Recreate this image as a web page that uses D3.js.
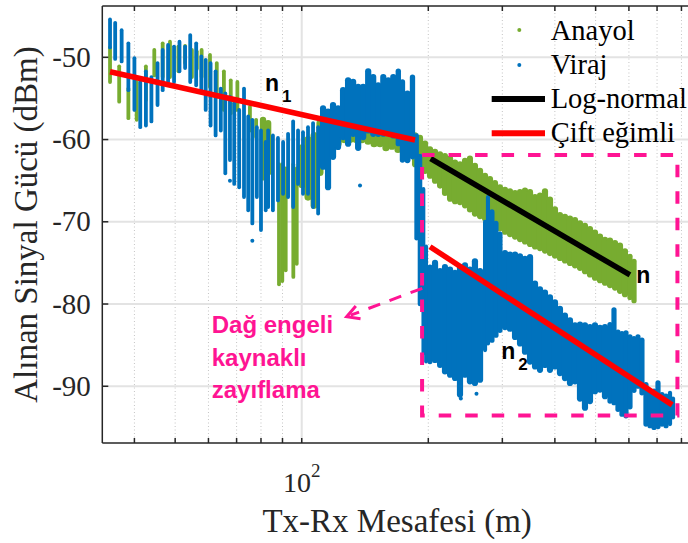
<!DOCTYPE html>
<html><head><meta charset="utf-8">
<script src="https://cdn.jsdelivr.net/npm/d3@7/dist/d3.min.js"></script>
<style>html,body{margin:0;padding:0;background:#fff;}svg{display:block;}</style>
</head><body>
<svg id="c" width="688" height="543"></svg>
<script>
// ---------------- DATA ----------------
const xDomain = [33.55, 847.6];          // Tx-Rx distance (m), log axis
const yDomain = [-96.9, -43.76];         // received power (dBm)
const yTicks = [-90, -80, -70, -60, -50];
const xMajorTicks = [100];
const xMinorTicks = [40, 50, 60, 70, 80, 90, 200, 300, 400, 500, 600, 700, 800];

// Anayol: individual measurement columns [distance, max dBm, min dBm]
const anayolColumns = [
  [35.0,-48.8,-53.0],[36.8,-51.1,-55.4],[38.7,-53.8,-57.4],[40.5,-53.0,-57.6],[42.6,-51.1,-55.2],
  [44.6,-49.1,-52.2],[46.7,-48.3,-52.4],[48.6,-48.1,-52.4],[50.9,-48.7,-51.7],[52.8,-48.6,-50.7],
  [54.8,-49.1,-52.4],[56.3,-49.3,-51.4],[57.8,-49.1,-52.4],[60.5,-49.7,-53.6],[62.8,-50.7,-54.8],
  [65.3,-51.7,-56.4],[67.8,-52.8,-56.8],[70.3,-53.0,-56.4],[75.3,-56.0,-58.9],[77.9,-57.6,-59.7],
  [80.6,-57.6,-63.7],[88.3,-63.0,-77.6],[89.9,-63.0,-77.2],[91.6,-63.5,-75.9],[95.5,-63.0,-76.7],
  [97.3,-63.5,-75.1]
];
// Anayol: dense range [distance, max dBm, min dBm]
const anayolBand = [
  [80.9,-57.6,-64.6],[83.2,-58.0,-64.0],
  [100.2,-61.0,-65.5],[103.5,-60.0,-67.0],[107.0,-59.5,-68.0],[110.5,-58.0,-64.0],[114.2,-58.0,-62.0],
  [118.0,-57.5,-61.0],[122.0,-57.0,-60.5],[126.1,-56.5,-60.0],[130.3,-56.5,-60.0],[134.6,-57.0,-60.0],
  [139.1,-56.5,-60.0],[143.8,-57.0,-60.2],[148.6,-57.5,-60.5],[153.5,-57.2,-60.5],[158.6,-57.5,-61.0],
  [163.9,-58.0,-60.8],[169.4,-58.0,-61.2],[175.0,-58.5,-61.0],[180.9,-59.0,-61.5],
  [186.0,-59.5,-63.0],[191.1,-59.8,-63.2],[196.5,-60.5,-63.8],[201.9,-61.2,-64.4],[207.5,-61.5,-65.0],
  [213.3,-61.8,-65.6],[219.1,-62.0,-66.5],[225.3,-62.3,-67.2],[231.5,-62.8,-67.5],[237.9,-63.0,-67.6],
  [244.5,-62.6,-68.0],[251.2,-62.3,-68.5],[258.2,-63.2,-69.0],[265.5,-63.8,-69.3],[272.9,-64.4,-69.6],
  [280.4,-64.8,-70.0],[288.2,-65.3,-70.4],[296.1,-65.8,-70.8],[304.4,-66.1,-71.2],[312.8,-66.3,-71.5],
  [321.6,-66.5,-71.8],[330.5,-66.4,-72.1],[339.6,-66.2,-72.4],[349.1,-66.4,-72.7],[358.8,-67.0,-73.0],
  [368.7,-66.8,-73.2],[378.9,-66.3,-73.5],[389.4,-67.3,-73.8],[400.2,-68.5,-74.1],[411.3,-69.2,-74.4],
  [422.7,-69.4,-74.7],[434.5,-69.6,-75.0],[446.6,-69.8,-75.3],[459.0,-70.2,-75.6],[471.7,-70.5,-76.0],
  [484.8,-70.9,-76.4],[498.3,-71.3,-76.8],[512.1,-71.8,-77.1],[526.3,-72.2,-77.4],[540.9,-72.3,-77.7],
  [556.0,-72.6,-78.0],[571.4,-72.9,-78.4],[587.2,-73.6,-78.8],[603.5,-74.2,-79.2],[617.0,-74.8,-79.6]
];
// Viraj: individual measurement columns [distance, max dBm, min dBm]
const virajColumns = [
  [35.0,-45.4,-48.8],[36.0,-45.8,-50.2],[37.3,-46.7,-50.5],[38.7,-48.3,-54.0],[40.0,-50.1,-56.4],
  [41.3,-53.0,-58.5],[42.6,-51.7,-58.3],[43.9,-52.4,-57.8],[45.4,-50.7,-55.8],[46.7,-49.1,-54.0],
  [48.1,-48.5,-53.0],[49.7,-48.7,-53.0],[51.2,-48.1,-51.7],[52.8,-48.7,-51.3],[54.3,-47.3,-53.0],
  [56.1,-48.3,-53.4],[57.7,-49.9,-54.0],[59.1,-50.3,-56.4],[60.7,-50.7,-58.3],[62.4,-51.7,-59.5],
  [64.2,-53.8,-58.9],[65.8,-54.4,-64.1],[67.5,-54.8,-62.5],[69.1,-55.6,-65.4],[71.0,-56.4,-65.8],
  [72.9,-53.8,-67.0],[74.6,-57.2,-68.6],[76.3,-57.6,-70.2],[78.2,-58.5,-67.0],[80.0,-58.9,-71.0],
  [82.1,-60.3,-68.6],[83.2,-58.9,-68.2],[85.4,-59.5,-68.6],[87.8,-59.8,-67.4],[90.3,-60.3,-66.6],
  [92.8,-59.3,-67.0],[95.4,-57.8,-68.2],[98.0,-58.9,-65.4],[100.7,-59.1,-66.6],[103.5,-58.5,-66.6],
  [106.4,-58.0,-68.2],[109.4,-58.5,-69.0]
];
// Viraj: dense range [distance, max dBm, min dBm]
const virajBand = [
  [112.4,-56.2,-63.3],[115.5,-56.6,-65.8],[118.7,-55.8,-62.1],[122.0,-56.2,-60.9],
  [125.4,-54.0,-59.7],[128.9,-52.8,-60.5],[132.5,-53.0,-59.3],[136.2,-53.6,-61.0],[140.0,-53.6,-59.7],
  [143.9,-51.7,-58.9],[147.9,-52.4,-59.3],[152.0,-53.4,-59.3],[156.3,-52.4,-59.3],[160.6,-52.8,-58.9],
  [165.1,-52.4,-59.5],[169.7,-51.7,-60.5],[173.6,-53.0,-62.5],[178.4,-54.4,-62.5],[183.4,-52.4,-62.1],
  [187.6,-59.5,-72.0],[191.1,-62.0,-80.0],[194.7,-66.0,-86.0],[197.6,-73.0,-87.0],[201.9,-75.5,-87.0],
  [207.5,-75.0,-86.8],[213.3,-76.0,-87.4],[219.1,-75.5,-88.2],[225.3,-75.8,-88.6],[231.5,-76.2,-89.0],
  [237.9,-75.5,-91.0],[244.5,-75.3,-88.6],[251.2,-75.8,-89.4],[258.2,-74.8,-89.6],[265.5,-76.0,-89.2],
  [272.9,-70.0,-85.6],[277.3,-67.0,-84.8],[283.4,-68.8,-84.4],[289.7,-70.2,-83.8],[296.1,-71.5,-83.2],
  [304.4,-73.8,-82.8],[312.8,-74.0,-83.0],[321.6,-74.0,-84.0],[330.5,-74.2,-84.8],[339.6,-74.5,-85.8],
  [349.1,-74.3,-87.0],[358.8,-77.5,-87.6],[368.7,-78.2,-88.0],[378.9,-78.6,-87.4],[389.4,-79.2,-88.0],
  [400.2,-79.8,-87.6],[411.3,-80.6,-88.4],[422.7,-81.4,-89.0],[434.5,-82.0,-89.6],[446.6,-82.6,-89.4],
  [459.0,-82.5,-91.5],[471.7,-82.6,-92.6],[484.8,-82.8,-91.8],[498.3,-82.6,-90.6],[512.1,-82.9,-90.4],
  [526.3,-82.8,-91.2],[540.9,-82.5,-91.8],[552.9,-80.7,-92.0],[565.1,-83.4,-92.8],[577.6,-83.6,-93.4],
  [590.4,-83.5,-93.6],[603.5,-84.0,-92.5],[616.9,-84.2,-90.5],[630.5,-84.0,-90.0],[644.4,-84.4,-90.8],
  [658.7,-89.8,-94.6],[673.4,-90.8,-94.8],[688.3,-90.6,-95.0],[703.6,-89.6,-94.9],[719.2,-91.0,-94.6],
  [735.2,-91.2,-94.8],[751.4,-90.8,-94.6],[763.9,-91.5,-93.8]
];
// isolated points [distance, dBm]
const virajOutliers = [[76.3,-72.3],[67.5,-65.0],[137.6,-65.6],[239.0,-91.5],[260.4,-90.9]];

// fitted lines [distance, dBm]
const fitN1 = [[35.0,-51.75],[186.0,-60.05]];      // çift eğimli, 1. bölüm
const fitN2 = [[201.9,-73.03],[760.6,-92.27]];     // çift eğimli, 2. bölüm
const fitLogNormal = [[202.6,-62.32],[603.4,-76.47]];

// annotations (data coordinates)
const dashedBox = [[193.3,-61.88],[782.6,-93.55]];
const arrowPts = [[193.5,-78.09],[127.9,-81.54]];
const obstacleText = ["Dağ engeli","kaynaklı","zayıflama"];
const obstacleTextPos = [61.1,-83.56];
const labelN1Pos = [81.8,-54.06];
const labelN2Pos = [298.3,-86.72];
const labelNPos = [624.2,-77.48];

const legendItems = ["Anayol","Viraj","Log-normal","Çift eğimli"];
const xLabel = "Tx-Rx Mesafesi (m)";
const yLabel = "Alınan Sinyal Gücü (dBm)";

// ---------------- STYLE / LAYOUT ----------------
const C_GREEN = "#77AC30", C_BLUE = "#0072BD", C_RED = "#FF0000", C_MAG = "#FF1493", C_AX = "#262626";
const L = 102.3, R = 692, T = 6, B = 443;
const SERIF = "'Liberation Serif','Times New Roman',serif";
const SANS = "'Liberation Sans',Arial,sans-serif";

const svg = d3.select("#c");
const x = d3.scaleLog().domain(xDomain).range([L, R]);
const y = d3.scaleLinear().domain(yDomain).range([B, T]);

svg.append("defs").append("clipPath").attr("id","clip")
  .append("rect").attr("x",L).attr("y",T).attr("width",R-L).attr("height",B-T);

// grid
const grid = svg.append("g");
grid.selectAll(null).data(xMinorTicks).join("line")
  .attr("x1",d=>x(d)).attr("x2",d=>x(d)).attr("y1",T).attr("y2",B)
  .attr("stroke","#c4c4c4").attr("stroke-width",1).attr("stroke-dasharray","1,2.5");
grid.selectAll(null).data(xMajorTicks).join("line")
  .attr("x1",d=>x(d)).attr("x2",d=>x(d)).attr("y1",T).attr("y2",B)
  .attr("stroke","#e3e3e3").attr("stroke-width",2);
grid.selectAll(null).data(yTicks).join("line")
  .attr("x1",L).attr("x2",R).attr("y1",d=>y(d)).attr("y2",d=>y(d))
  .attr("stroke","#e3e3e3").attr("stroke-width",2);

const plot = svg.append("g").attr("clip-path","url(#clip)");

function drawColumns(g, cols, color) {
  g.append("g").selectAll("line").data(cols).join("line")
    .attr("x1",d=>x(d[0])).attr("x2",d=>x(d[0]))
    .attr("y1",d=>y(d[1])).attr("y2",d=>y(d[2]))
    .attr("stroke",color).attr("stroke-width",3.8).attr("stroke-linecap","round");
}
function drawBand(g, band, color) {
  const px = band.map(d=>x(d[0]));
  g.append("g").selectAll("line").data(band).join("line")
    .attr("x1",d=>x(d[0])).attr("x2",d=>x(d[0]))
    .attr("y1",d=>y(d[1])).attr("y2",d=>y(d[2]))
    .attr("stroke",color)
    .attr("stroke-width",(d,i)=>{
      const gp = i>0 ? px[i]-px[i-1] : Infinity;
      const gn = i<px.length-1 ? px[i+1]-px[i] : Infinity;
      return Math.max(3.8, Math.min(8, Math.min(gp,gn)+1.2));
    })
    .attr("stroke-linecap","round");
}
drawColumns(plot, anayolColumns, C_GREEN);
drawBand(plot, anayolBand, C_GREEN);
drawColumns(plot, virajColumns, C_BLUE);
drawBand(plot, virajBand, C_BLUE);
plot.append("g").selectAll("circle").data(virajOutliers).join("circle")
  .attr("cx",d=>x(d[0])).attr("cy",d=>y(d[1])).attr("r",2).attr("fill",C_BLUE);

// fits
const line = d3.line().x(d=>x(d[0])).y(d=>y(d[1]));
plot.append("path").attr("d",line(fitN1)).attr("stroke",C_RED).attr("stroke-width",5.5).attr("fill","none");
plot.append("path").attr("d",line(fitN2)).attr("stroke",C_RED).attr("stroke-width",5.5).attr("fill","none");
plot.append("path").attr("d",line(fitLogNormal)).attr("stroke","#000").attr("stroke-width",5.5).attr("fill","none");

// dashed box
const bx0 = x(dashedBox[0][0]), by0 = y(dashedBox[0][1]), bx1 = x(dashedBox[1][0]), by1 = y(dashedBox[1][1]);
svg.append("rect").attr("x",bx0).attr("y",by0).attr("width",bx1-bx0).attr("height",by1-by0)
  .attr("fill","none").attr("stroke",C_MAG).attr("stroke-width",4).attr("stroke-dasharray","12.5,14");

// arrow
const a0 = [x(arrowPts[0][0]), y(arrowPts[0][1])], a1 = [x(arrowPts[1][0]), y(arrowPts[1][1])];
svg.append("line").attr("x1",a0[0]).attr("y1",a0[1]).attr("x2",a1[0]+4).attr("y2",a1[1]-1.5)
  .attr("stroke",C_MAG).attr("stroke-width",3).attr("stroke-dasharray","12.5,10");
{
  const ang = Math.atan2(a0[1]-a1[1], a0[0]-a1[0]);
  const len = 14, spread = 0.5;
  const p1 = [a1[0]+len*Math.cos(ang+spread), a1[1]+len*Math.sin(ang+spread)];
  const p2 = [a1[0]+len*Math.cos(ang-spread), a1[1]+len*Math.sin(ang-spread)];
  svg.append("path").attr("d",`M${p1[0]},${p1[1]}L${a1[0]},${a1[1]}L${p2[0]},${p2[1]}`)
    .attr("fill","none").attr("stroke",C_MAG).attr("stroke-width",3);
}

// annotation text
svg.append("text").attr("x",x(obstacleTextPos[0])).attr("y",y(obstacleTextPos[1]))
  .attr("font-family",SANS).attr("font-weight","bold").attr("font-size",24).attr("fill",C_MAG)
  .selectAll("tspan").data(obstacleText).join("tspan")
  .attr("x",x(obstacleTextPos[0])).attr("dy",(d,i)=>i===0?0:32.5).text(d=>d);

function nLabel(pos, sub) {
  const t = svg.append("text").attr("x",x(pos[0])).attr("y",y(pos[1]))
    .attr("font-family",SANS).attr("font-weight","bold").attr("font-size",23).attr("fill","#000");
  t.append("tspan").text("n");
  if (sub) t.append("tspan").attr("dx",3).attr("dy",11).attr("font-size",17).text(sub);
}
nLabel(labelN1Pos,"1");
nLabel(labelN2Pos,"2");
nLabel(labelNPos,null);

// axes box
const ax = svg.append("g").attr("stroke",C_AX).attr("stroke-width",1.5);
ax.append("line").attr("x1",L).attr("x2",R).attr("y1",B).attr("y2",B);
ax.append("line").attr("x1",L).attr("x2",R).attr("y1",T).attr("y2",T);
ax.append("line").attr("x1",L).attr("x2",L).attr("y1",T).attr("y2",B);
ax.append("line").attr("x1",R).attr("x2",R).attr("y1",T).attr("y2",B);
const allX = xMinorTicks.concat(xMajorTicks);
ax.selectAll(null).data(allX).join("line")
  .attr("x1",d=>x(d)).attr("x2",d=>x(d)).attr("y1",B).attr("y2",B-5);
ax.selectAll(null).data(allX).join("line")
  .attr("x1",d=>x(d)).attr("x2",d=>x(d)).attr("y1",T).attr("y2",T+5);
ax.selectAll(null).data(yTicks).join("line")
  .attr("x1",L).attr("x2",L+6).attr("y1",d=>y(d)).attr("y2",d=>y(d));

// tick labels
svg.append("g").selectAll("text").data(yTicks).join("text")
  .attr("x",L-11.5).attr("y",d=>y(d)+9.5).attr("text-anchor","end")
  .attr("font-family",SERIF).attr("font-size",29).attr("fill",C_AX).text(d=>d);
svg.append("g").selectAll("text").data(xMajorTicks).join("text")
  .attr("x",d=>x(d)).attr("y",491.5).attr("text-anchor","middle")
  .attr("font-family",SERIF).attr("font-size",28).attr("fill",C_AX)
  .each(function(d){
    const t = d3.select(this);
    t.append("tspan").text("10");
    t.append("tspan").attr("dy",-15).attr("font-size",19).text(String(Math.round(Math.log10(d))));
  });

// axis labels
svg.append("text").attr("x",(L+R)/2).attr("y",531.5).attr("text-anchor","middle")
  .attr("font-family",SERIF).attr("font-size",33).attr("fill",C_AX).text(xLabel);
svg.append("text").attr("transform",`translate(37,${(T+B)/2}) rotate(-90)`).attr("text-anchor","middle")
  .attr("font-family",SERIF).attr("font-size",33).attr("fill",C_AX).text(yLabel);

// legend
const lg = svg.append("g");
const lgTextX = 550.7, lgBase = [40, 73.5, 108, 141.7];
legendItems.forEach((name,i)=>{
  lg.append("text").attr("x",lgTextX).attr("y",lgBase[i]).attr("font-family",SERIF)
    .attr("font-size",28.5).attr("fill","#000").text(name);
});
lg.append("circle").attr("cx",519.3).attr("cy",lgBase[0]-10).attr("r",2).attr("fill",C_GREEN);
lg.append("circle").attr("cx",519.3).attr("cy",lgBase[1]-8.5).attr("r",2).attr("fill",C_BLUE);
lg.append("line").attr("x1",491.7).attr("x2",545).attr("y1",lgBase[2]-9).attr("y2",lgBase[2]-9)
  .attr("stroke","#000").attr("stroke-width",6);
lg.append("line").attr("x1",491.7).attr("x2",545).attr("y1",lgBase[3]-8.4).attr("y2",lgBase[3]-8.4)
  .attr("stroke",C_RED).attr("stroke-width",6);
</script>
</body></html>
